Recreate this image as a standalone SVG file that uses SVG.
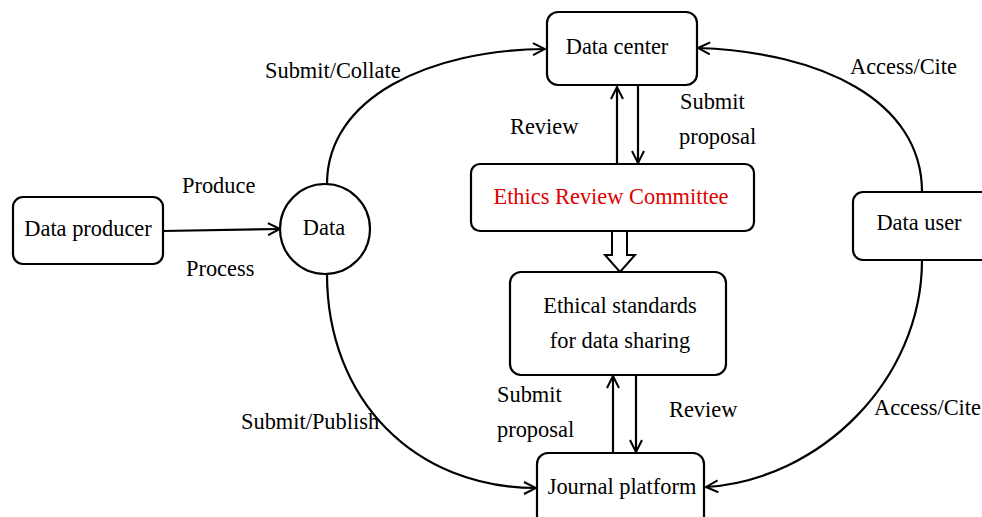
<svg xmlns="http://www.w3.org/2000/svg" width="982" height="517" viewBox="0 0 982 517">
<style>
.box{fill:#fff;stroke:#000;stroke-width:2.2}
.t{font-family:'Liberation Serif','Times New Roman','DejaVu Serif',serif;font-size:22.4px;fill:#000}
.c{text-anchor:middle}
.ln{fill:none;stroke:#000;stroke-width:2.2}
.red{fill:#e00000}
</style>
<defs>
<marker id="ah" viewBox="0 0 14 14" refX="13" refY="7" markerWidth="14" markerHeight="14" markerUnits="userSpaceOnUse" orient="auto">
<path d="M1,1 L13,7 L1,13" fill="none" stroke="#000" stroke-width="2"/>
</marker>
</defs>
<rect width="982" height="517" fill="#fff"/>
<g id="connectors">
<line class="ln" x1="163" y1="231" x2="280" y2="229" marker-end="url(#ah)"/>
<path class="ln" d="M327,184 C327,97 430,50 545,49" marker-end="url(#ah)"/>
<path class="ln" d="M922,192 C922,100 820,52 698,48" marker-end="url(#ah)"/>
<path class="ln" d="M327,274 C327,400 415,488 536,488" marker-end="url(#ah)"/>
<path class="ln" d="M922,260 C922,380 820,480 706,487" marker-end="url(#ah)"/>
<line class="ln" x1="617" y1="164" x2="617" y2="87" marker-end="url(#ah)"/>
<line class="ln" x1="638" y1="86" x2="638" y2="163" marker-end="url(#ah)"/>
<line class="ln" x1="613" y1="453" x2="613" y2="376" marker-end="url(#ah)"/>
<line class="ln" x1="636" y1="375" x2="636" y2="452" marker-end="url(#ah)"/>
<path d="M612,231 L612,255 L605,255 L620,272 L635,255 L627,255 L627,231" fill="#fff" stroke="#000" stroke-width="2"/>
</g>
<g id="data-center">
<rect class="box" x="547" y="12" width="150" height="73" rx="11"/>
<text class="t c" x="617" y="54">Data center</text>
</g>
<g id="ethics-committee">
<rect class="box" x="471" y="164" width="283" height="67" rx="9"/>
<text class="t c red" x="611" y="204">Ethics Review Committee</text>
</g>
<g id="ethical-standards">
<rect class="box" x="510" y="272" width="216" height="103" rx="11"/>
<text class="t c" x="620" y="313">Ethical standards</text>
<text class="t c" x="620" y="348">for data sharing</text>
</g>
<g id="journal-platform">
<rect class="box" x="537" y="453" width="167" height="80" rx="11"/>
<text class="t c" x="622" y="494">Journal platform</text>
</g>
<g id="data-producer">
<rect class="box" x="13" y="197" width="150" height="67" rx="10"/>
<text class="t c" x="88" y="236">Data producer</text>
</g>
<g id="data">
<circle class="box" cx="325" cy="229" r="45"/>
<text class="t c" x="324" y="235">Data</text>
</g>
<g id="data-user">
<rect class="box" x="853" y="192" width="150" height="68" rx="10"/>
<text class="t c" x="919" y="230">Data user</text>
</g>
<g id="labels">
<text class="t" x="265" y="78">Submit/Collate</text>
<text class="t" x="850" y="74">Access/Cite</text>
<text class="t" x="182" y="193">Produce</text>
<text class="t" x="186" y="276">Process</text>
<text class="t" x="510" y="134">Review</text>
<text class="t" x="680" y="109">Submit</text>
<text class="t" x="679" y="144">proposal</text>
<text class="t" x="241" y="429">Submit/Publish</text>
<text class="t" x="497" y="402">Submit</text>
<text class="t" x="497" y="437">proposal</text>
<text class="t" x="669" y="417">Review</text>
<text class="t" x="874" y="415">Access/Cite</text>
</g>
</svg>
